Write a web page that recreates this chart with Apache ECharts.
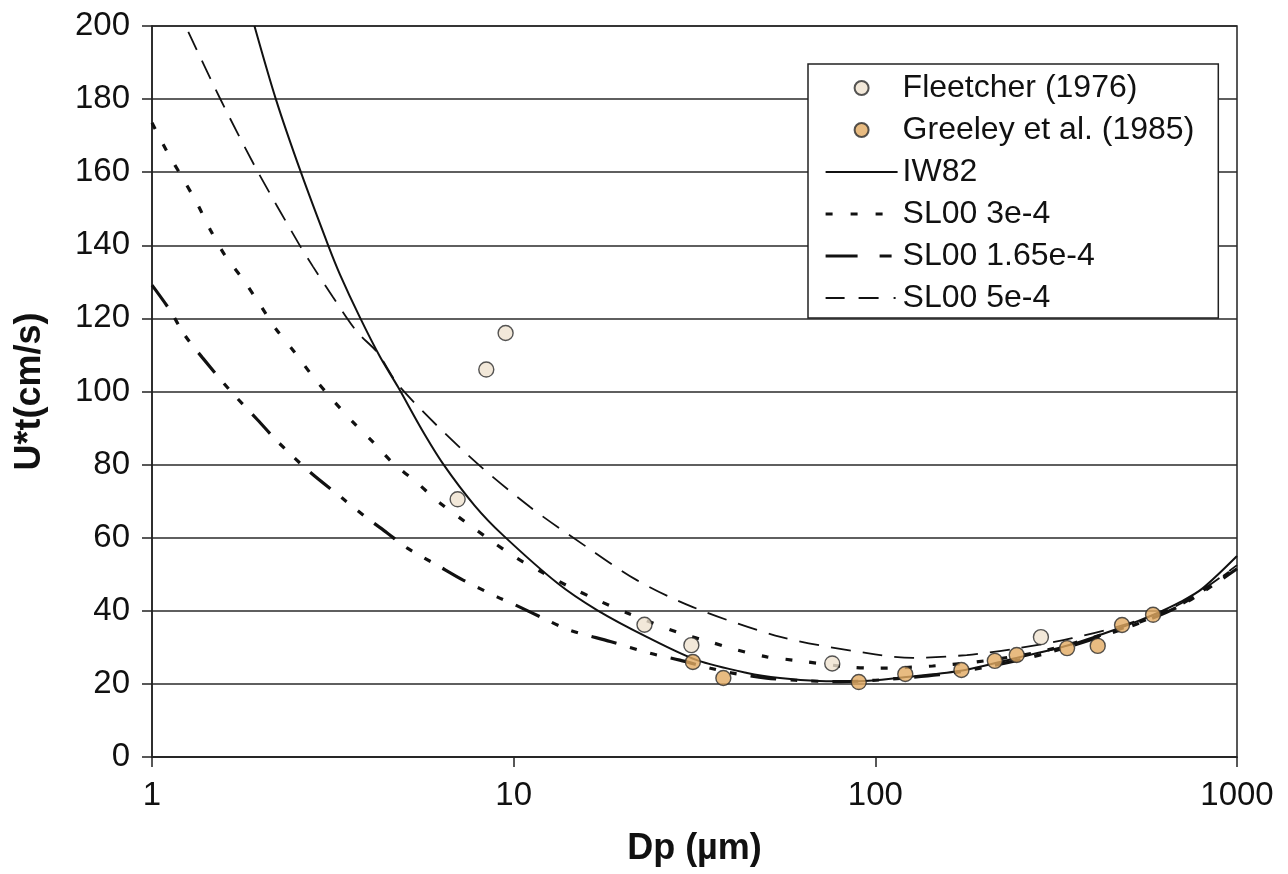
<!DOCTYPE html>
<html><head><meta charset="utf-8">
<script src="https://cdn.jsdelivr.net/npm/echarts@6/dist/echarts.min.js"></script>
<style>html,body{margin:0;padding:0;background:#fff}#c{width:1288px;height:874px}</style>
</head><body><div id="c"></div>
<script>
// Data
const xTicks = [1, 10, 100, 1000];
const yTicks = [0, 20, 40, 60, 80, 100, 120, 140, 160, 180, 200];

const fleetcherD = [7.0, 8.4, 9.5, 23, 31, 76, 287];
const fleetcherU = [70.5, 106, 116, 36.2, 30.6, 25.6, 32.8];

const greeleyD = [31.3, 38, 90, 121, 173, 214, 246, 339, 412, 481, 586];
const greeleyU = [26, 21.6, 20.5, 22.7, 23.8, 26.3, 27.9, 29.8, 30.4, 36.1, 38.9];

const iw82D = [1.92, 2.2, 2.58, 3.07, 3.31, 3.76, 4.27, 4.79, 5.57, 6.38, 7.8, 9.34, 13.2, 17, 23.4, 32.1, 44.2, 54.5, 70, 90, 120, 170, 250, 340, 480, 590, 700, 800, 1000];
const iw82U = [200, 180, 160, 140, 132, 120.2, 109.5, 101.2, 89.6, 80.2, 68.8, 60.7, 47.6, 40.2, 32.8, 26.5, 23, 21.6, 20.8, 20.7, 21.8, 23.5, 27.3, 30.5, 35.5, 39, 42.5, 46, 55];

const sl3D = [1, 1.107, 1.21, 1.33, 1.45, 1.59, 1.79, 1.99, 2.19, 2.49, 2.79, 3.16, 3.59, 4.08, 4.64, 5.41, 6.25, 7.43, 8.6, 10.2, 12.1, 14.3, 17, 20.6, 28.8, 34.9, 41.4, 50.1, 59.3, 85, 102, 144, 200, 300, 500, 700, 1000];
const sl3U = [173.5, 165.2, 158.7, 151.6, 144.2, 137.3, 130.5, 123.7, 117.4, 110.5, 104, 97.7, 91.7, 86.2, 80.4, 75, 69.5, 64, 59.4, 54.4, 50.3, 46.5, 43, 39.4, 33.9, 31.5, 29.3, 27.4, 26.5, 24.6, 24.3, 24.9, 26.3, 29.3, 35.8, 41.8, 52];

const sl165D = [1, 1.12, 1.23, 1.38, 1.64, 1.96, 2.23, 2.73, 3.35, 3.93, 4.47, 5.07, 6.14, 7.25, 9, 10, 12.05, 14.3, 18.5, 23.8, 28.8, 35, 40, 50, 60, 80, 100, 150, 200, 300, 500, 700, 1000];
const sl165U = [129.1, 122.3, 115.5, 109.2, 100.4, 92.2, 86.2, 78, 70.9, 65.4, 61.3, 57.2, 52.5, 48.4, 43.8, 41.8, 38, 34.7, 31.6, 28.4, 26.5, 24.3, 23, 21.6, 21, 20.6, 21, 22.5, 24.5, 28.5, 35.5, 41.5, 51.5];

const sl5D = [1.26, 1.54, 1.95, 2.54, 2.79, 3.16, 3.69, 4.19, 4.85, 7.57, 11.1, 15.9, 21.9, 31.3, 55, 95, 127, 179, 250, 350, 500, 700, 1000];
const sl5U = [198.4, 180.3, 160.6, 140.6, 134.1, 125.9, 116.3, 110.8, 101.2, 82.1, 68.4, 57.5, 48.4, 41, 32.8, 28.4, 27.1, 27.9, 29.8, 32.5, 36.5, 42, 52.5];

const zip = (xs, ys) => xs.map((x, i) => [x, ys[i]]);
const FONT = "'Liberation Sans', Arial, Helvetica, sans-serif";
const hideSym = {opacity: 0};

const chart = echarts.init(document.getElementById('c'), null, {renderer: 'canvas'});
chart.setOption({
  animation: false,
  backgroundColor: '#ffffff',
  textStyle: {fontFamily: FONT, color: '#111'},
  grid: {left: 152, right: 51, top: 26, bottom: 117, show: true, borderColor: '#222', borderWidth: 1.5, backgroundColor: 'transparent'},
  xAxis: {
    type: 'log', logBase: 10, min: xTicks[0], max: xTicks[xTicks.length - 1],
    name: 'Dp (µm)', nameLocation: 'middle', nameGap: 74,
    nameTextStyle: {fontFamily: FONT, fontWeight: 'bold', fontSize: 36, color: '#111'},
    axisLine: {show: true, lineStyle: {color: '#222', width: 1.5}},
    axisTick: {show: true, inside: false, length: 10, lineStyle: {color: '#222', width: 1.5}},
    minorTick: {show: false},
    axisLabel: {fontFamily: FONT, fontSize: 33, color: '#111', margin: 22, formatter: v => String(Math.round(v))},
    splitLine: {show: false}
  },
  yAxis: {
    type: 'value', min: yTicks[0], max: yTicks[yTicks.length - 1], interval: 20,
    name: 'U*t(cm/s)', nameLocation: 'middle', nameGap: 104,
    nameTextStyle: {fontFamily: FONT, fontWeight: 'bold', fontSize: 36, color: '#111'},
    axisLine: {show: true, lineStyle: {color: '#222', width: 1.5}},
    axisTick: {show: true, inside: false, length: 10, lineStyle: {color: '#222', width: 1.5}},
    axisLabel: {fontFamily: FONT, fontSize: 33, color: '#111', margin: 22},
    splitLine: {show: true, lineStyle: {color: '#2a2a2a', width: 1.6}}
  },
  legend: {
    orient: 'vertical', left: 808, top: 64,
    backgroundColor: '#ffffff', borderColor: '#222', borderWidth: 1.5,
    padding: [8, 24, 4, 16], itemWidth: 72, itemHeight: 14, itemGap: 10,
    textStyle: {fontFamily: FONT, fontSize: 32, color: '#111', lineHeight: 32},
    data: [
      {name: 'Fleetcher (1976)'},
      {name: 'Greeley et al. (1985)'},
      {name: 'IW82', itemStyle: hideSym, lineStyle: {color: '#111', width: 2, type: 'solid'}},
      {name: 'SL00 3e-4', itemStyle: hideSym, lineStyle: {color: '#111', width: 3.2, type: [7, 18]}},
      {name: 'SL00 1.65e-4', itemStyle: hideSym, lineStyle: {color: '#111', width: 3.2, type: [32, 22, 12, 30]}},
      {name: 'SL00 5e-4', itemStyle: hideSym, lineStyle: {color: '#111', width: 1.8, type: [19, 14, 20, 15, 2, 10]}}
    ]
  },
  series: [
    {name: 'IW82', type: 'line', data: zip(iw82D, iw82U), symbol: 'none', smooth: 0.3, z: 3,
     lineStyle: {color: '#111', width: 2, type: 'solid'}, itemStyle: {color: '#111'}},
    {name: 'SL00 3e-4', type: 'line', data: zip(sl3D, sl3U), symbol: 'none', smooth: 0.3, z: 3,
     lineStyle: {color: '#111', width: 3.2, type: [7, 17]}, itemStyle: {color: '#111'}},
    {name: 'SL00 1.65e-4', type: 'line', data: zip(sl165D, sl165U), symbol: 'none', smooth: 0.3, z: 3,
     lineStyle: {color: '#111', width: 3.2, type: [26, 14, 7, 14, 7, 14]}, itemStyle: {color: '#111'}},
    {name: 'SL00 5e-4', type: 'line', data: zip(sl5D, sl5U), symbol: 'none', smooth: 0.3, z: 3,
     lineStyle: {color: '#111', width: 1.8, type: [20, 12]}, itemStyle: {color: '#111'}},
    {name: 'Fleetcher (1976)', type: 'scatter', data: zip(fleetcherD, fleetcherU), symbol: 'circle', symbolSize: 15, z: 5,
     itemStyle: {color: '#efe2d0', borderColor: '#2a2a2a', borderWidth: 1.4}},
    {name: 'Greeley et al. (1985)', type: 'scatter', data: zip(greeleyD, greeleyU), symbol: 'circle', symbolSize: 15, z: 5,
     itemStyle: {color: '#e2aa62', borderColor: '#2a2a2a', borderWidth: 1.4}}
  ]
});
</script>
</body></html>
